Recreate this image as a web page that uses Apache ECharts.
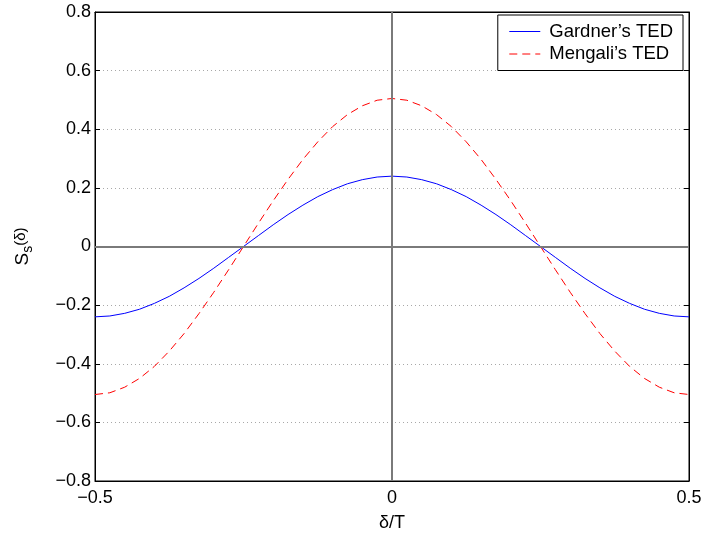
<!DOCTYPE html>
<html>
<head>
<meta charset="utf-8">
<script src="https://cdn.jsdelivr.net/npm/echarts@6/dist/echarts.min.js"></script>
<style>html,body{margin:0;padding:0;background:#fff}#c{width:702px;height:534px}</style>
</head>
<body>
<div id="c"></div>
<script>
var xValues = [-0.5,-0.475,-0.45,-0.425,-0.4,-0.375,-0.35,-0.325,-0.3,-0.275,-0.25,-0.225,-0.2,-0.175,-0.15,-0.125,-0.1,-0.075,-0.05,-0.025,0,
  0.025,0.05,0.075,0.1,0.125,0.15,0.175,0.2,0.225,0.25,0.275,0.3,0.325,0.35,0.375,0.4,0.425,0.45,0.475,0.5];
var gardner = [-0.240,-0.237,-0.228,-0.214,-0.194,-0.170,-0.141,-0.109,-0.074,-0.037,0.000,0.037,0.074,0.109,0.141,0.170,0.194,0.214,0.228,0.237,0.240,
  0.237,0.228,0.214,0.194,0.170,0.141,0.109,0.074,0.037,0.000,-0.037,-0.074,-0.109,-0.141,-0.170,-0.194,-0.214,-0.228,-0.237,-0.240];
var mengali = [-0.505,-0.499,-0.480,-0.450,-0.409,-0.357,-0.297,-0.229,-0.156,-0.079,0.000,0.079,0.156,0.229,0.297,0.357,0.409,0.450,0.480,0.499,0.505,
  0.499,0.480,0.450,0.409,0.357,0.297,0.229,0.156,0.079,0.000,-0.079,-0.156,-0.229,-0.297,-0.357,-0.409,-0.450,-0.480,-0.499,-0.505];
var seriesNames = ["Gardner\u2019s TED", "Mengali\u2019s TED"];
var xTicks = [-0.5, 0, 0.5];
var yTicks = [-0.8,-0.6,-0.4,-0.2,0,0.2,0.4,0.6,0.8];

function fmt(v){
  var s = (Math.round(v*10)/10).toString();
  return s.replace('-', '\u2212');
}
function pairs(xs, ys){ return xs.map(function(x,i){return [x, ys[i]];}); }

var font = 'Liberation Sans, Arial, Helvetica, sans-serif';
var chart = echarts.init(document.getElementById('c'), null, {renderer:'canvas'});
var option = {
  backgroundColor: '#fff',
  animation: false,
  grid: {left: 95, right: 13, top: 12, bottom: 53, show: true, borderColor: '#000', borderWidth: 1,
         containLabel: false, outerBoundsMode: 'none'},
  legend: {
    orient: 'vertical', right: 19, top: 15,
    backgroundColor: '#fff', borderColor: '#000', borderWidth: 1,
    padding: [7, 10, 7, 11], itemGap: 3.5, itemWidth: 31, itemHeight: 17,
    itemStyle: {opacity: 0},
    textStyle: {fontFamily: font, fontSize: 18.5, color: '#000', padding: [0, 0, 0, 4]},
    data: [
      {name: seriesNames[0], lineStyle: {color: '#0000ff', width: 1}},
      {name: seriesNames[1], lineStyle: {color: '#ff0000', width: 1, type: [8, 5]}}
    ]
  },
  xAxis: [{
    type: 'value', min: -0.5, max: 0.5, interval: 0.5,
    name: '\u03b4/T', nameLocation: 'middle', nameGap: 33,
    nameTextStyle: {fontFamily: font, fontSize: 18, color: '#000'},
    axisLine: {show: true, onZero: false, lineStyle: {color: '#000', width: 1}},
    axisTick: {show: true, inside: true, length: 5, lineStyle: {color: '#000'}},
    axisLabel: {fontFamily: font, fontSize: 18, color: '#000', margin: 8, formatter: fmt},
    splitLine: {show: false}
  },{
    type: 'value', min: -0.5, max: 0.5, interval: 0.5, position: 'top',
    axisLine: {show: true, onZero: false, lineStyle: {color: '#000'}},
    axisTick: {show: true, inside: true, length: 5, lineStyle: {color: '#000'}},
    axisLabel: {show: false}, splitLine: {show: false}
  }],
  yAxis: [{
    type: 'value', min: -0.8, max: 0.8, interval: 0.2,
    name: '{a|S}{b|s}{c|(\u03b4)}', nameLocation: 'middle', nameGap: 60,
    nameTextStyle: {
      fontFamily: font, color: '#000',
      rich: {
        a: {fontFamily: font, fontSize: 19, color: '#000'},
        b: {fontFamily: font, fontSize: 14, color: '#000', padding: [10, 0, 0, 0]},
        c: {fontFamily: font, fontSize: 15, color: '#000', padding: [0, 0, 5, 0]}
      }
    },
    axisLine: {show: true, onZero: false, lineStyle: {color: '#000', width: 1}},
    axisTick: {show: true, inside: true, length: 5, lineStyle: {color: '#000'}},
    axisLabel: {fontFamily: font, fontSize: 18, color: '#000', margin: 4, formatter: fmt},
    splitLine: {show: true, lineStyle: {color: '#a8a8a8', width: 1, type: [1, 3]}}
  },{
    type: 'value', min: -0.8, max: 0.8, interval: 0.2, position: 'right',
    axisLine: {show: true, onZero: false, lineStyle: {color: '#000'}},
    axisTick: {show: true, inside: true, length: 5, lineStyle: {color: '#000'}},
    axisLabel: {show: false}, splitLine: {show: false}
  }],
  series: [{
    type: 'line', name: '_zero', data: [], silent: true, z: 1,
    markLine: {
      silent: true, symbol: 'none', label: {show: false},
      lineStyle: {color: '#7a7a7a', width: 2, type: 'solid'},
      data: [{xAxis: 0}, {yAxis: 0}]
    }
  },{
    type: 'line', name: seriesNames[0], data: pairs(xValues, gardner),
    showSymbol: false, symbol: 'none', z: 3,
    lineStyle: {color: '#0000ff', width: 1}, itemStyle: {color: '#0000ff'}
  },{
    type: 'line', name: seriesNames[1], data: pairs(xValues, mengali),
    showSymbol: false, symbol: 'none', z: 4,
    lineStyle: {color: '#ff0000', width: 1, type: [8, 5]}, itemStyle: {color: '#ff0000'}
  }]
};
chart.setOption(option);
</script>
</body>
</html>
